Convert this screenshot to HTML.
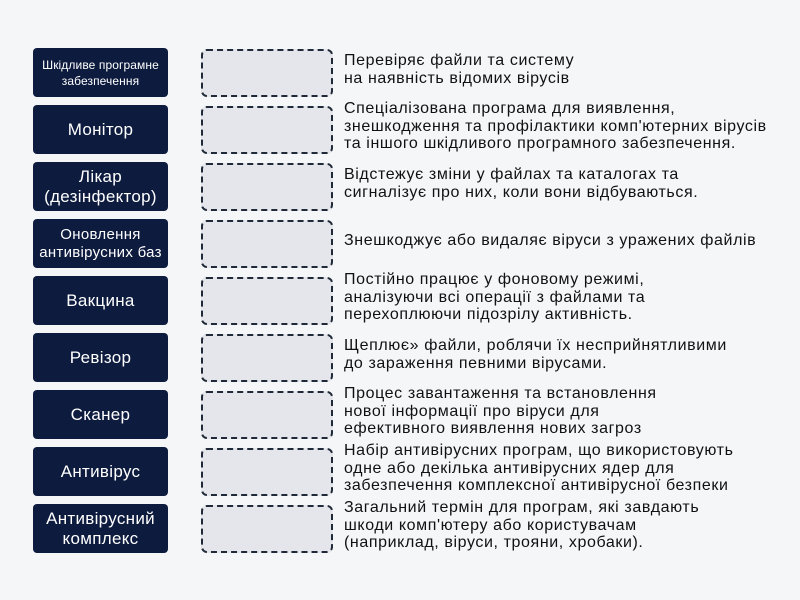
<!DOCTYPE html>
<html><head><meta charset="utf-8"><style>
body{margin:0;width:800px;height:600px;background:#f5f6f8;font-family:"Liberation Sans","DejaVu Sans",sans-serif;position:relative;overflow:hidden}
.l{position:absolute;left:33px;width:135px;height:49px;background:#0d1b3e;border-radius:4px;color:#fff;display:flex;align-items:center;justify-content:center;text-align:center;font-size:17px;line-height:20px;letter-spacing:0.3px}
.l.s{font-size:12px;line-height:16px;letter-spacing:0.1px}
.l.m{font-size:15px;line-height:18px}
.d{position:absolute;left:201px;width:128px;height:44px;border:2.5px dashed #1f2937;border-radius:6px;background:#e4e6eb}
.t{position:absolute;left:344px;width:456px;height:49px;display:flex;align-items:center;color:#111;font-size:16px;line-height:17.5px;letter-spacing:0.6px;margin-top:-3px;white-space:nowrap}
</style></head><body>
<div class="l s" style="top:48px">Шкідливе програмне<br>забезпечення</div>
<div class="l" style="top:105px">Монітор</div>
<div class="l" style="top:162px">Лікар<br>(дезінфектор)</div>
<div class="l m" style="top:219px">Оновлення<br>антивірусних баз</div>
<div class="l" style="top:276px">Вакцина</div>
<div class="l" style="top:333px">Ревізор</div>
<div class="l" style="top:390px">Сканер</div>
<div class="l" style="top:447px">Антивірус</div>
<div class="l" style="top:504px">Антивірусний<br>комплекс</div>

<div class="d" style="top:49px"></div>
<div class="d" style="top:106px"></div>
<div class="d" style="top:163px"></div>
<div class="d" style="top:220px"></div>
<div class="d" style="top:277px"></div>
<div class="d" style="top:334px"></div>
<div class="d" style="top:391px"></div>
<div class="d" style="top:448px"></div>
<div class="d" style="top:505px"></div>

<div class="t" style="top:48px">Перевіряє файли та систему<br>на наявність відомих вірусів</div>
<div class="t" style="top:105px">Спеціалізована програма для виявлення,<br>знешкодження та профілактики комп'ютерних вірусів<br>та іншого шкідливого програмного забезпечення.</div>
<div class="t" style="top:162px">Відстежує зміни у файлах та каталогах та<br>сигналізує про них, коли вони відбуваються.</div>
<div class="t" style="top:219px">Знешкоджує або видаляє віруси з уражених файлів</div>
<div class="t" style="top:276px">Постійно працює у фоновому режимі,<br>аналізуючи всі операції з файлами та<br>перехоплюючи підозрілу активність.</div>
<div class="t" style="top:333px">Щеплює» файли, роблячи їх несприйнятливими<br>до зараження певними вірусами.</div>
<div class="t" style="top:390px">Процес завантаження та встановлення<br>нової інформації про віруси для<br>ефективного виявлення нових загроз</div>
<div class="t" style="top:447px">Набір антивірусних програм, що використовують<br>одне або декілька антивірусних ядер для<br>забезпечення комплексної антивірусної безпеки</div>
<div class="t" style="top:504px">Загальний термін для програм, які завдають<br>шкоди комп'ютеру або користувачам<br>(наприклад, віруси, трояни, хробаки).</div>
</body></html>
